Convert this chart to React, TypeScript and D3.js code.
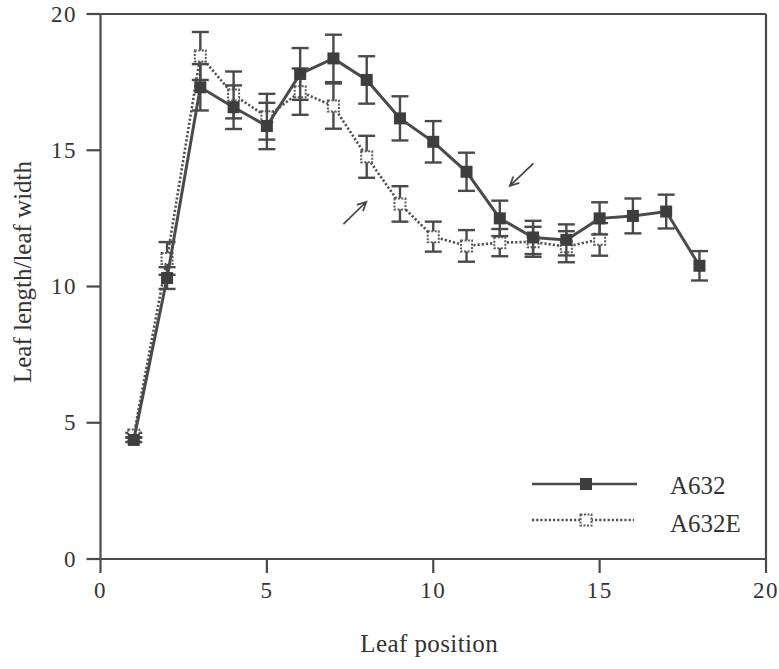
import React from "react";
import * as d3 from "d3";

const positions = [1, 2, 3, 4, 5, 6, 7, 8, 9, 10, 11, 12, 13, 14, 15, 16, 17, 18];
const a632 = [4.37, 10.31, 17.31, 16.58, 15.89, 17.8, 18.37, 17.58, 16.17, 15.31, 14.21, 12.5, 11.8, 11.71, 12.5, 12.59, 12.75, 10.76];
const a632Err = [0.08, 0.4, 0.85, 0.8, 0.85, 0.95, 0.87, 0.87, 0.81, 0.76, 0.7, 0.65, 0.61, 0.57, 0.59, 0.64, 0.62, 0.54];
const positionsE = [1, 2, 3, 4, 5, 6, 7, 8, 9, 10, 11, 12, 13, 14, 15];
const a632E = [4.55, 11.03, 18.46, 17.03, 16.23, 17.15, 16.62, 14.76, 13.03, 11.83, 11.49, 11.61, 11.64, 11.46, 11.73];
const a632EErr = [0.08, 0.6, 0.88, 0.86, 0.84, 0.85, 0.83, 0.77, 0.65, 0.55, 0.58, 0.5, 0.55, 0.57, 0.6];
const xTicks = [0, 5, 10, 15, 20];
const yTicks = [0, 5, 10, 15, 20];
// annotation arrows in data units: [x1, y1, x2, y2] (arrowhead at x2,y2)
const arrows = [
  [7.3, 12.29, 7.99, 13.11],
  [13.01, 14.52, 12.3, 13.69],
];
const seriesNames = ["A632", "A632E"];

const INK = "#4a4a4a";
const FONT = "'Liberation Serif', 'DejaVu Serif', serif";

export default function App() {
  const W = 779, H = 669;
  const x = d3.scaleLinear().domain([0, 20]).range([100.5, 766]);
  const y = d3.scaleLinear().domain([0, 20]).range([559, 14]);
  const lineA = d3.line<number>().x((_, i) => x(positions[i])).y((d) => y(d));
  const lineE = d3.line<number>().x((_, i) => x(positionsE[i])).y((d) => y(d));
  const cap = 8.5;
  const ms = 12;

  const errBars = (xs: number[], vs: number[], es: number[], key: string) =>
    vs.map((v, i) => {
      const cx = x(xs[i]);
      const t = y(v + es[i]);
      const b = y(v - es[i]);
      return (
        <g key={key + i} stroke={INK} strokeWidth={2.4}>
          <line x1={cx} x2={cx} y1={t} y2={b} />
          <line x1={cx - cap} x2={cx + cap} y1={t} y2={t} />
          <line x1={cx - cap} x2={cx + cap} y1={b} y2={b} />
        </g>
      );
    });

  const arrowPath = (a: number[]) => {
    const x1 = x(a[0]), y1 = y(a[1]), x2 = x(a[2]), y2 = y(a[3]);
    const ang = Math.atan2(y2 - y1, x2 - x1);
    const L = 10;
    const p1 = [x2 - L * Math.cos(ang - 0.45), y2 - L * Math.sin(ang - 0.45)];
    const p2 = [x2 - L * Math.cos(ang + 0.45), y2 - L * Math.sin(ang + 0.45)];
    return `M${x1},${y1}L${x2},${y2}M${p1[0]},${p1[1]}L${x2},${y2}L${p2[0]},${p2[1]}`;
  };

  const legX1 = 532, legX2 = 637, legMid = 586;
  const legY = [484, 520];

  return (
    <svg width={W} height={H} style={{ position: "absolute", left: 0, top: 0, background: "#fff" }}>
      <rect width={W} height={H} fill="#fff" />
      {/* frame */}
      <g stroke={INK} strokeWidth={2.2} fill="none">
        <line x1={x(0)} x2={x(20)} y1={y(0)} y2={y(0)} />
        <line x1={x(0)} x2={x(20)} y1={y(20)} y2={y(20)} />
        <line x1={x(0)} x2={x(0)} y1={y(0)} y2={y(20)} />
        <line x1={x(20)} x2={x(20)} y1={y(0)} y2={y(20)} />
        {xTicks.map((t) => (
          <line key={"xt" + t} x1={x(t)} x2={x(t)} y1={y(0)} y2={y(0) + 14} />
        ))}
        {yTicks.map((t) => (
          <line key={"yt" + t} x1={x(0) - 14} x2={x(0)} y1={y(t)} y2={y(t)} />
        ))}
      </g>
      <g fill="#333" fontFamily={FONT} fontSize={23} letterSpacing={1.5}>
        {xTicks.map((t) => (
          <text key={"xl" + t} x={x(t)} y={598} textAnchor="middle">{t}</text>
        ))}
        {yTicks.map((t) => (
          <text key={"yl" + t} x={77} y={y(t)} textAnchor="end" dominantBaseline="central">{t}</text>
        ))}
      </g>
      <text x={(x(0) + x(20)) / 2 - 4} y={652} textAnchor="middle" fontFamily={FONT} fontSize={25} letterSpacing={0.4} fill="#333">Leaf position</text>
      <text transform={`translate(31, 272) rotate(-90)`} textAnchor="middle" fontFamily={FONT} fontSize={25} fill="#333">Leaf length/leaf width</text>

      {/* A632E series */}
      {errBars(positionsE, a632E, a632EErr, "e")}
      <path d={lineE(a632E) || ""} fill="none" stroke="#505050" strokeWidth={2.6} strokeDasharray="2.2,2" />
      {a632E.map((v, i) => (
        <rect key={"em" + i} x={x(positionsE[i]) - 5.5} y={y(v) - 5.5} width={11} height={11} fill="#fff" stroke="#5a5a5a" strokeWidth={2} strokeDasharray="2,1.5" />
      ))}

      {/* A632 series */}
      {errBars(positions, a632, a632Err, "a")}
      <path d={lineA(a632) || ""} fill="none" stroke={INK} strokeWidth={3} />
      {a632.map((v, i) => (
        <rect key={"am" + i} x={x(positions[i]) - ms / 2} y={y(v) - ms / 2} width={ms} height={ms} fill="#3e3e3e" />
      ))}

      {/* arrows */}
      {arrows.map((a, i) => (
        <path key={"ar" + i} d={arrowPath(a)} fill="none" stroke="#444" strokeWidth={1.7} />
      ))}

      {/* legend */}
      <line x1={legX1} x2={legX2} y1={legY[0]} y2={legY[0]} stroke={INK} strokeWidth={2.6} />
      <rect x={legMid - 6} y={legY[0] - 6} width={12} height={12} fill="#3e3e3e" />
      <line x1={legX1} x2={legX2 - 3} y1={legY[1]} y2={legY[1]} stroke="#505050" strokeWidth={2.4} strokeDasharray="2.2,2" />
      <rect x={legMid - 5.5} y={legY[1] - 5.5} width={11} height={11} fill="#fff" stroke="#5a5a5a" strokeWidth={2} strokeDasharray="2,1.5" />
      <g fontFamily={FONT} fontSize={25} fill="#333">
        <text x={670} y={494}>{seriesNames[0]}</text>
        <text x={670} y={532}>{seriesNames[1]}</text>
      </g>
    </svg>
  );
}
